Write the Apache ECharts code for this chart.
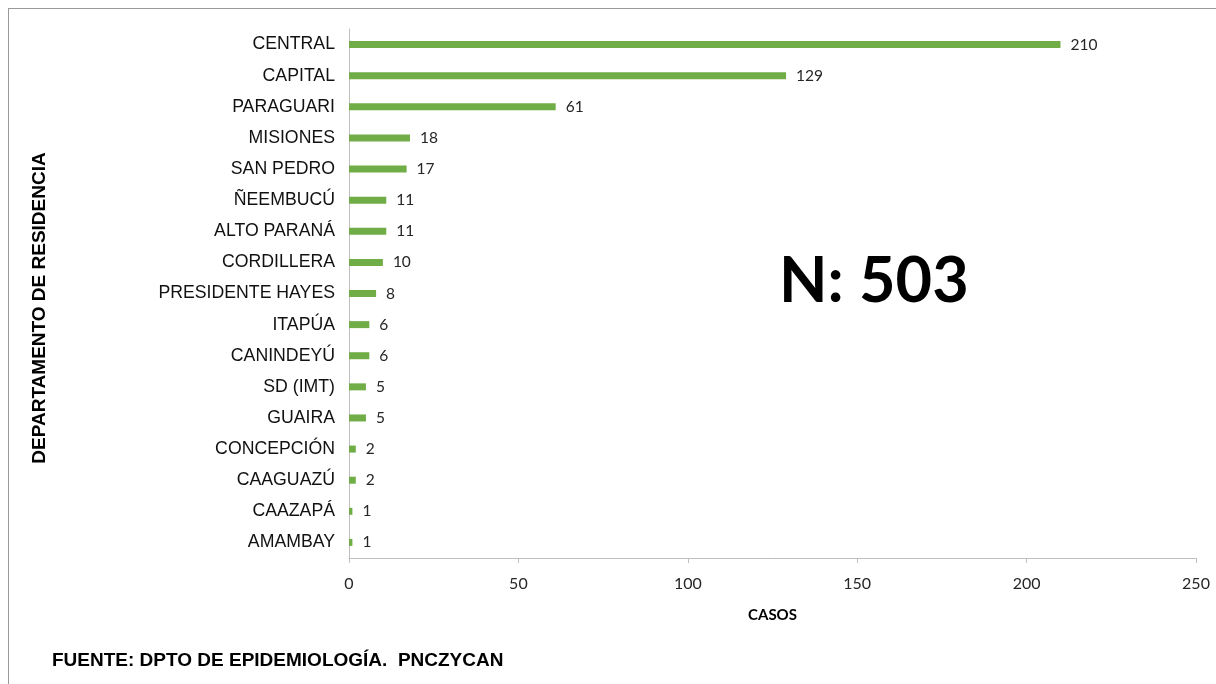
<!DOCTYPE html>
<html>
<head>
<meta charset="utf-8">
<script src="https://cdn.jsdelivr.net/npm/echarts@6/dist/echarts.min.js"></script>
<style>
  html, body { margin: 0; padding: 0; background: #fff; }
  #main { width: 1216px; height: 684px; }
</style>
</head>
<body>
<div id="main"></div>
<script>
    // datos por departamento de residencia
    var departamentos = ['CENTRAL', 'CAPITAL', 'PARAGUARI', 'MISIONES', 'SAN PEDRO', 'ÑEEMBUCÚ',
        'ALTO PARANÁ', 'CORDILLERA', 'PRESIDENTE HAYES', 'ITAPÚA', 'CANINDEYÚ', 'SD (IMT)',
        'GUAIRA', 'CONCEPCIÓN', 'CAAGUAZÚ', 'CAAZAPÁ', 'AMAMBAY'];
    var casos = [210, 129, 61, 18, 17, 11, 11, 10, 8, 6, 6, 5, 5, 2, 2, 1, 1];
    var ticksX = [0, 50, 100, 150, 200, 250];

    var myChart = echarts.init(document.getElementById('main'));

    var option = {
        animation: false,
        grid: { left: 349, right: 20, top: 29, bottom: 126, containLabel: false },
        xAxis: {
            type: 'value',
            min: ticksX[0],
            max: ticksX[ticksX.length - 1],
            interval: ticksX[1] - ticksX[0],
            name: 'CASOS',
            nameLocation: 'middle',
            nameGap: 50,
            nameTextStyle: { fontFamily: 'Lato', fontWeight: 'bold', fontSize: 15, color: '#000' },
            axisLine: { show: true, lineStyle: { color: '#bfbfbf', width: 1 } },
            axisTick: { show: true, length: 5, lineStyle: { color: '#bfbfbf' } },
            axisLabel: { fontFamily: 'Lato', fontSize: 16, color: '#262626', margin: 18 },
            splitLine: { show: false }
        },
        yAxis: {
            type: 'category',
            inverse: true,
            data: departamentos,
            axisLine: { show: true, lineStyle: { color: '#bfbfbf', width: 1 } },
            axisTick: { show: false },
            axisLabel: { fontFamily: 'Liberation Sans', fontSize: 17.7, color: '#111', margin: 14 }
        },
        series: [{
            type: 'bar',
            data: casos,
            barWidth: 7,
            itemStyle: { color: '#70ad47' },
            label: {
                show: true,
                position: 'right',
                distance: 10,
                fontFamily: 'Lato',
                fontSize: 15.5,
                color: '#262626'
            }
        }],
        graphic: [
            { type: 'line', shape: { x1: 8, y1: 8.5, x2: 1216, y2: 8.5 }, style: { stroke: '#999', lineWidth: 1 } },
            { type: 'line', shape: { x1: 8.5, y1: 8, x2: 8.5, y2: 684 }, style: { stroke: '#999', lineWidth: 1 } },
            {
                // titulo del eje vertical
                type: 'text', x: 40, y: 308, rotation: Math.PI / 2,
                style: {
                    text: 'DEPARTAMENTO DE RESIDENCIA', font: 'bold 19px "Liberation Sans"', fill: '#000',
                    align: 'center', verticalAlign: 'middle'
                }
            },
            {
                type: 'text', left: 779, top: 250,
                style: { text: 'N: 503', font: 'bold 63px Lato', fill: '#000' }
            },
            {
                type: 'text', left: 52, top: 651,
                style: { text: 'FUENTE: DPTO DE EPIDEMIOLOGÍA.  PNCZYCAN', font: 'bold 19px "Liberation Sans"', fill: '#000' }
            }
        ]
    };

    myChart.setOption(option);
</script>
</body>
</html>
